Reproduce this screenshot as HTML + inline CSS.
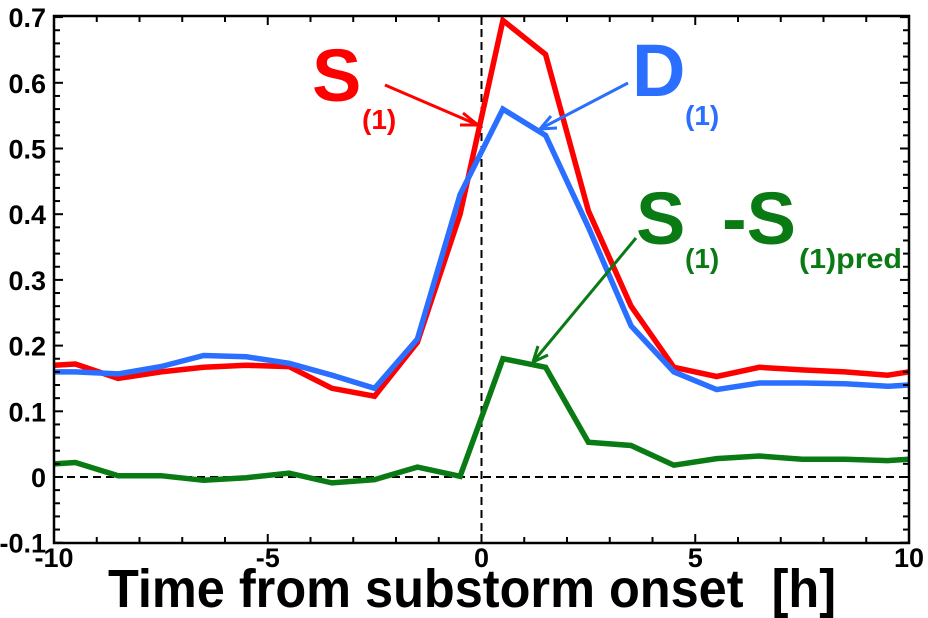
<!DOCTYPE html>
<html><head><meta charset="utf-8"><style>
html,body{margin:0;padding:0;background:#fff;}
svg{display:block;font-family:"Liberation Sans",sans-serif;font-weight:bold;}
</style></head><body>
<svg id="chart" width="928" height="618" viewBox="0 0 928 618" xmlns="http://www.w3.org/2000/svg">
<defs><clipPath id="clip"><rect x="54" y="16" width="855" height="527"/></clipPath></defs>
<g id="marks" clip-path="url(#clip)"></g>
<g id="axes"></g>
<g>
  <text x="312" y="101" font-size="74" fill="#ff0000">S</text>
  <text x="362" y="129" font-size="28" fill="#ff0000">(1)</text>
  <line x1="385" y1="85" x2="478" y2="125" stroke="#ff0000" stroke-width="3"/>
  <path d="M478,125 L463,113 M478,125 L460,125" stroke="#ff0000" stroke-width="3" fill="none"/>
  <text x="632" y="96" font-size="74" fill="#2a6fff">D</text>
  <text x="685" y="125" font-size="28" fill="#2a6fff">(1)</text>
  <line x1="628" y1="83" x2="540" y2="129" stroke="#2a6fff" stroke-width="3"/>
  <path d="M540,129 L557,128 M540,129 L551,116" stroke="#2a6fff" stroke-width="3" fill="none"/>
  <text x="636" y="244" font-size="74" fill="#0a7a14">S</text>
  <text x="685" y="268" font-size="28" fill="#0a7a14">(1)</text>
  <text x="722" y="244" font-size="74" fill="#0a7a14">-S</text>
  <text x="799" y="268" font-size="28" fill="#0a7a14" textLength="103" lengthAdjust="spacingAndGlyphs">(1)pred</text>
  <line x1="636" y1="238" x2="533" y2="362" stroke="#0a7a14" stroke-width="3"/>
  <path d="M533,362 L538,346 M533,362 L548,355" stroke="#0a7a14" stroke-width="3" fill="none"/>
</g>
<text x="108" y="607" font-size="54" textLength="728" lengthAdjust="spacingAndGlyphs">Time from substorm onset&#160;&#160;[h]</text>
</svg>
<script>
const hours = [-10,-9.5,-8.5,-7.5,-6.5,-5.5,-4.5,-3.5,-2.5,-1.5,-0.5,0.5,1.5,2.5,3.5,4.5,5.5,6.5,7.5,8.5,9.5,10];
const s1 = [0.17,0.172,0.15,0.16,0.167,0.17,0.168,0.135,0.123,0.205,0.40,0.695,0.643,0.405,0.26,0.167,0.153,0.167,0.163,0.16,0.155,0.16];
const d1 = [0.16,0.16,0.157,0.168,0.185,0.183,0.173,0.155,0.135,0.21,0.43,0.56,0.52,0.38,0.23,0.16,0.133,0.143,0.143,0.142,0.138,0.14];
const diff = [0.02,0.022,0.002,0.002,-0.005,-0.001,0.006,-0.009,-0.004,0.015,0.001,0.18,0.167,0.053,0.048,0.018,0.028,0.032,0.027,0.027,0.025,0.027];
const xTicks = [-10,-5,0,5,10];
const xTickLabels = ["-10","-5","0","5","10"];
const yTicks = [-0.1,0,0.1,0.2,0.3,0.4,0.5,0.6,0.7];
const yTickLabels = ["-0.1","0","0.1","0.2","0.3","0.4","0.5","0.6","0.7"];

const NS="http://www.w3.org/2000/svg";
const L=54,R=909,T=16,B=543;
function xs(v){return 481.5+v*42.75;}
function ys(v){return 477-v*657;}
const marks=document.getElementById('marks');
const axes=document.getElementById('axes');
function mk(tag,attrs,parent){const e=document.createElementNS(NS,tag);for(const k in attrs)e.setAttribute(k,attrs[k]);parent.appendChild(e);return e;}

let z=mk('line',{x1:L,x2:R,y1:ys(0),y2:ys(0),stroke:'#000','stroke-width':2,'stroke-dasharray':'8,5'},marks);


let v=mk('line',{x1:xs(0),x2:xs(0),y1:T,y2:B,stroke:'#000','stroke-width':2,'stroke-dasharray':'8,5'},marks);



function series(vals,color,name){
  const pts=hours.map((h,i)=>xs(h).toFixed(1)+','+ys(vals[i]).toFixed(1)).join(' ');
  const p=mk('polyline',{points:pts,fill:'none',stroke:color,'stroke-width':5.5,'stroke-linejoin':'miter'},marks);
  
  
}
series(s1,'#ff0000','series-s1');
series(diff,'#0a7a14','series-diff');
series(d1,'#2a6fff','series-d1');

const frame=mk('rect',{x:L,y:T,width:R-L,height:B-T,fill:'none',stroke:'#000','stroke-width':2.5},axes);



for(let h=-10;h<=10;h++){
  const major=(h%5===0);
  const len=major?9:6;
  const x=xs(h);
  mk('line',{x1:x,x2:x,y1:B,y2:B-len,stroke:'#000','stroke-width':2},axes);
  mk('line',{x1:x,x2:x,y1:T,y2:T+len,stroke:'#000','stroke-width':2},axes);
}
for(let k=-10;k<=70;k+=2){
  const major=(k%10===0);
  const len=major?9:6;
  const y=ys(k/100);
  mk('line',{x1:L,x2:L+len,y1:y,y2:y,stroke:'#000','stroke-width':2},axes);
  mk('line',{x1:R,x2:R-len,y1:y,y2:y,stroke:'#000','stroke-width':2},axes);
}
xTicks.forEach((t,i)=>{
  const e=mk('text',{x:xs(t),y:567,'font-size':27,'text-anchor':'middle'},axes);
  e.textContent=xTickLabels[i];
  
  
});
yTicks.forEach((t,i)=>{
  const e=mk('text',{x:46,y:ys(t)+10,'font-size':27,'text-anchor':'end'},axes);
  e.textContent=yTickLabels[i];
  
  
});
</script>
</body></html>
